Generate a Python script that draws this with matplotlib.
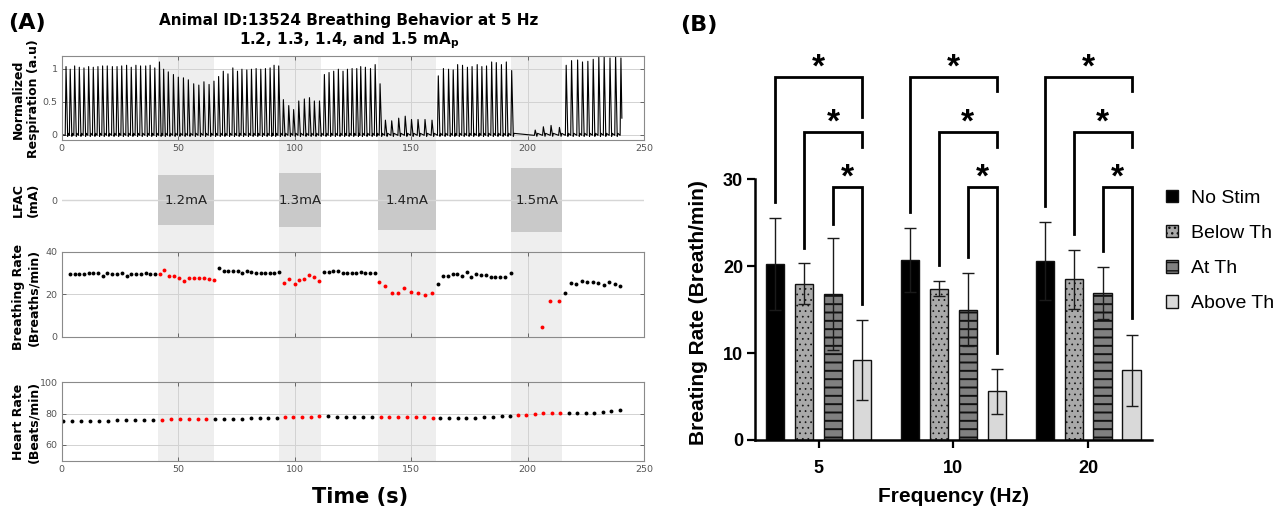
import numpy as np
import matplotlib
matplotlib.use('Agg')
import matplotlib.pyplot as plt

# ---------------- panel A data ----------------
stim_on = [41.5, 93.5, 136.0, 193.0]
stim_off = [65.5, 111.5, 160.5, 215.0]
stim_amp = [1.2, 1.3, 1.4, 1.5]
stim_lbl = ['1.2mA', '1.3mA', '1.4mA', '1.5mA']

# respiration: time and height of each breath peak
resp_t = [1.9, 3.7, 5.6, 7.6, 9.6, 11.6, 13.6, 15.6, 17.6, 19.6, 21.8, 23.8, 25.8, 27.9, 29.9,
          31.9, 33.9, 36.1, 38.0, 40.0,
          42.0, 43.8, 45.8, 48.0, 50.1, 52.3, 54.4, 56.7, 58.9, 61.1, 63.3, 65.4,
          67.4, 69.4, 71.4, 73.5, 75.5, 77.4, 79.5, 81.5, 83.5, 85.5, 87.5, 89.5, 91.2, 93.2,
          95.2, 97.5, 99.6, 101.8, 104.2, 106.4, 108.5, 110.7,
          112.8, 114.8, 116.8, 118.8, 120.8, 122.7, 124.7, 126.7, 128.4, 130.4, 132.6, 134.6, 136.7,
          139.0, 141.7, 144.7, 147.5, 150.2, 153.0, 156.0, 159.0,
          161.7, 163.9, 166.1, 168.1, 170.0, 172.1, 174.2, 176.2, 178.4, 180.4, 182.4, 184.6,
          186.6, 188.8, 190.9, 193.2,
          203.3, 206.8, 210.1, 213.7,
          216.6, 218.9, 221.5, 223.6, 225.9, 228.2, 230.6, 232.9, 235.4, 237.8, 240.1]
resp_pk = [1.03, 0.99, 1.04, 1.02, 1.01, 1.03, 1.02, 1.03, 1.04, 1.04, 1.03, 1.03, 1.04, 1.05, 1.02,
           1.05, 1.04, 1.04, 1.05, 1.01,
           1.10, 0.99, 0.95, 0.91, 0.87, 0.86, 0.83, 0.77, 0.75, 0.80, 0.76, 0.81,
           0.88, 0.96, 0.92, 1.01, 0.96, 0.99, 0.98, 0.99, 1.00, 0.99, 1.00, 1.01, 1.05, 1.04,
           0.53, 0.44, 0.38, 0.51, 0.54, 0.56, 0.51, 0.51,
           0.91, 0.94, 0.96, 0.99, 0.96, 0.99, 1.00, 1.00, 1.03, 1.02, 1.00, 1.06, 0.77,
           0.22, 0.21, 0.25, 0.28, 0.23, 0.23, 0.23, 0.22,
           0.89, 1.00, 0.99, 0.98, 1.06, 1.05, 1.02, 1.03, 1.06, 1.03, 1.04, 1.10,
           1.09, 1.06, 1.10, 0.97,
           0.07, 0.12, 0.14, 0.11,
           1.05, 1.12, 1.13, 1.10, 1.11, 1.14, 1.17, 1.18, 1.16, 1.21, 1.16]
resp_end = 0.25

# breathing rate (breaths/min)
br_t = [3.6, 5.6, 7.6, 9.6, 11.6, 13.6, 15.6, 17.6, 19.6, 21.6, 23.6, 25.8, 27.9, 29.9, 31.9, 34.1,
        36.1, 38.1, 40.1,
        42.1, 44.1, 46.1, 48.1, 50.3, 52.4, 54.6, 56.7, 58.8, 61.0, 63.3, 65.4,
        67.6, 69.6, 71.6, 73.6, 75.6, 77.4, 79.5, 81.5, 83.5, 85.5, 87.5, 89.5, 91.3, 93.2,
        95.3, 97.5, 100.0, 102.1, 104.2, 106.4, 108.5, 110.7,
        112.7, 114.7, 116.7, 118.7, 120.7, 122.7, 124.6, 126.5, 128.4, 130.4, 132.4, 134.4,
        136.4, 138.9, 141.7, 144.6, 147.1, 150.0, 152.9, 155.9, 158.9,
        161.6, 163.8, 165.8, 167.8, 169.8, 171.9, 173.9, 175.9, 177.9, 180.1, 182.1, 184.2,
        186.2, 188.4, 190.5, 192.7,
        206.1, 209.7, 213.3,
        216.3, 218.6, 221.0, 223.3, 225.6, 228.0, 230.4, 232.7, 235.0, 237.5, 239.9]
br_v = [29.6, 29.6, 29.6, 29.6, 30.0, 29.9, 29.9, 28.8, 30.2, 29.6, 29.6, 29.9, 28.6, 29.6, 29.6, 29.6,
        29.9, 29.6, 29.4,
        29.4, 31.5, 28.6, 28.5, 27.7, 26.2, 27.4, 27.4, 27.4, 27.4, 27.2, 26.9,
        32.3, 31.0, 30.8, 30.8, 30.8, 29.9, 30.8, 30.5, 30.2, 30.2, 30.2, 30.2, 30.2, 30.4,
        25.3, 27.2, 25.0, 26.9, 27.2, 28.9, 28.3, 26.1,
        30.4, 30.4, 30.7, 30.8, 30.2, 30.0, 30.0, 30.0, 30.4, 29.9, 29.9, 30.2,
        25.9, 23.7, 20.6, 20.4, 22.9, 21.2, 20.4, 19.8, 20.4,
        25.0, 28.8, 28.8, 29.7, 29.7, 28.8, 30.4, 28.0, 29.7, 28.9, 28.9, 28.1,
        28.1, 28.1, 28.3, 30.2,
        4.4, 16.8, 16.8,
        20.4, 25.1, 24.7, 26.1, 25.6, 25.6, 25.1, 24.5, 25.6, 24.8, 23.9]

# heart rate (beats/min)
hr_t = [0.5, 4.3, 8.2, 12.1, 15.9, 19.8, 23.6, 27.5, 31.4, 35.2, 39.1,
        43.0, 46.8, 50.7, 54.6, 58.4, 62.1,
        66.0, 69.7, 73.6, 77.5, 81.2, 85.0, 88.8, 92.5,
        95.8, 99.5, 103.2, 106.9, 110.7,
        114.4, 118.1, 122.0, 125.7, 129.5, 133.3,
        137.0, 140.7, 144.4, 148.2, 152.0, 155.7, 159.3,
        162.6, 166.3, 170.1, 173.8, 177.6, 181.4, 185.2, 189.0, 192.4,
        195.7, 199.4, 203.1, 206.7, 210.4, 214.0,
        217.7, 221.4, 225.0, 228.7, 232.3, 236.0, 239.5]
hr_v = [75.4, 75.4, 75.4, 75.6, 75.6, 75.6, 75.8, 75.8, 75.8, 75.8, 76.1,
        76.1, 76.3, 76.3, 76.5, 76.5, 76.7,
        76.7, 76.7, 76.7, 76.7, 76.9, 77.1, 77.3, 77.5,
        77.8, 78.0, 78.0, 78.0, 78.2,
        78.2, 78.0, 78.0, 78.0, 77.8, 77.8,
        78.0, 78.0, 78.0, 78.0, 78.0, 77.8, 77.5,
        77.5, 77.3, 77.1, 77.3, 77.5, 77.8, 78.0, 78.2, 78.6,
        79.0, 79.4, 79.9, 80.5, 80.7, 80.7,
        80.5, 80.3, 80.1, 80.3, 80.9, 81.6, 82.4]

# ---------------- panel B data ----------------
freqs = ['5', '10', '20']
conds = ['No Stim', 'Below Th', 'At Th', 'Above Th']
mean_5 = [20.3, 18.0, 16.8, 9.2]
sd_5 = [5.3, 2.4, 6.4, 4.6]
mean_10 = [20.7, 17.4, 15.0, 5.6]
sd_10 = [3.7, 0.85, 4.2, 2.6]
mean_20 = [20.6, 18.5, 16.9, 8.0]
sd_20 = [4.5, 3.4, 3.0, 4.1]

# significance brackets (each condition vs Above Th)
brk_top = [41.8, 35.4, 29.1]
brk_left_5 = [27.4, 22.1, 24.9]
brk_left_10 = [26.2, 20.1, 21.1]
brk_left_20 = [26.9, 23.7, 21.8]
brk_right_5 = [37.2, 33.7, 15.6]
brk_right_10 = [40.2, 33.7, 10.0]
brk_right_20 = [40.2, 33.7, 14.0]

# ---------------- figure ----------------
W, H = 1277, 508
fig = plt.figure(figsize=(W / 100, H / 100), dpi=100)


def box(l, t, r, b):
    return [l / W, 1 - b / H, (r - l) / W, (b - t) / H]


XL, XR = 61.6, 644.0
tick_col = '#555555'
spine_col = '#8a8a8a'


def stim_mask(t):
    t = np.asarray(t)
    m = np.zeros(len(t), dtype=bool)
    for a, b in zip(stim_on, stim_off):
        m |= (t >= a) & (t <= b)
    return m


def style_a(ax):
    ax.set_xlim(0, 250)
    ax.patch.set_visible(False)
    ax.set_zorder(1)
    for s in ax.spines.values():
        s.set_color(spine_col)
        s.set_linewidth(0.8)
    ax.tick_params(direction='in', length=3, width=0.6, colors=tick_col, labelsize=6.8,
                   top=True, right=True, pad=3)
    ax.set_xticks([0, 50, 100, 150, 200, 250])
    ax.grid(True, color='#d2d2d2', lw=0.7)
    ax.set_axisbelow(True)


# shaded stimulation windows behind the whole of panel A
bg = fig.add_axes(box(XL, 56, XR, 460.7))
bg.set_xlim(0, 250)
bg.axis('off')
bg.set_zorder(0)
for a, b in zip(stim_on, stim_off):
    bg.axvspan(a, b, color='#eeeeee', lw=0)

# respiration
ax1 = fig.add_axes(box(XL, 56, XR, 140.3))
style_a(ax1)
tr_t, tr_y = [0.3], [0.0]
for t, a in zip(resp_t, resp_pk):
    tr_t += [t - 0.35, t, t + 0.7, t + 1.0]
    tr_y += [-0.01, a, -0.025, 0.02]
tr_t[-2:] = [resp_t[-1] + 0.4]
tr_y[-2:] = [resp_end]
ax1.plot(tr_t, tr_y, color='black', lw=0.8)
ax1.set_ylim(-0.085, 1.19)
ax1.set_yticks([0, 0.5, 1])
ax1.set_yticklabels(['0', '0.5', '1'])

# LFAC waveform envelope
ax2 = fig.add_axes(box(XL, 157.8, XR, 242.2))
ax2.set_xlim(0, 250)
ax2.set_ylim(-2, 2)
ax2.patch.set_visible(False)
ax2.set_zorder(1)
for s in ax2.spines.values():
    s.set_visible(False)
ax2.axhline(0, color='#d6d6d6', lw=1)
for a, b, amp, lbl in zip(stim_on, stim_off, stim_amp, stim_lbl):
    ax2.fill_between([a, b], [-amp, -amp], [amp, amp], color='#c9c9c9', lw=0)
    ax2.text((a + b) / 2, 0, lbl, ha='center', va='center', fontsize=9.5, color='#222222')
ax2.set_xticks([])
ax2.set_yticks([0])
ax2.tick_params(direction='in', length=4, width=0.6, colors=tick_col, labelsize=6.8, pad=3)

# breathing rate
ax3 = fig.add_axes(box(XL, 251.8, XR, 336.5))
style_a(ax3)
m = stim_mask(br_t)
bt, bv = np.array(br_t), np.array(br_v)
ax3.plot(bt[~m], bv[~m], 'o', color='black', ms=2.8, mew=0)
ax3.plot(bt[m], bv[m], 'o', color='#ff0000', ms=2.8, mew=0)
ax3.set_ylim(0, 40)
ax3.set_yticks([0, 20, 40])
ax3.set_xticklabels([])

# heart rate
ax4 = fig.add_axes(box(XL, 382.2, XR, 460.7))
style_a(ax4)
m = stim_mask(hr_t)
ht, hv = np.array(hr_t), np.array(hr_v)
ax4.plot(ht[~m], hv[~m], 'o', color='black', ms=2.8, mew=0)
ax4.plot(ht[m], hv[m], 'o', color='#ff0000', ms=2.8, mew=0)
ax4.set_ylim(50, 100)
ax4.set_yticks([60, 80, 100])

# panel A labels
ylab_kw = dict(rotation=90, ha='center', va='center', fontsize=9, fontweight='bold',
               multialignment='center')
fig.text(26 / W, 1 - 99 / H, 'Normalized\nRespiration (a.u)', **ylab_kw)
fig.text(26 / W, 1 - 200 / H, 'LFAC\n(mA)', **ylab_kw)
fig.text(26 / W, 1 - 297 / H, 'Breathing Rate\n(Breaths/min)', **ylab_kw)
fig.text(26 / W, 1 - 422 / H, 'Heart Rate\n(Beats/min)', **ylab_kw)
fig.text(360 / W, 1 - 497 / H, 'Time (s)', ha='center', va='center', fontsize=15,
         fontweight='bold')
fig.text(349 / W, 1 - 21 / H, 'Animal ID:13524 Breathing Behavior at 5 Hz', ha='center',
         va='center', fontsize=11, fontweight='bold')
fig.text(349 / W, 1 - 41 / H, r'1.2, 1.3, 1.4, and 1.5 mA$_\mathbf{p}$', ha='center',
         va='center', fontsize=11, fontweight='bold')
fig.text(8 / W, 1 - 23 / H, '(A)', ha='left', va='center', fontsize=16, fontweight='bold')
fig.text(680 / W, 1 - 25 / H, '(B)', ha='left', va='center', fontsize=16, fontweight='bold')

# ---------------- panel B ----------------
bfont = 'Liberation Sans'
axb = fig.add_axes(box(755, 40, 1152, 440))
axb.patch.set_visible(False)
axb.set_xlim(-0.473, 2.474)
axb.set_ylim(0, 400 / 8.69)

pitch, width = 0.215, 0.136
means = [mean_5, mean_10, mean_20]
sds = [sd_5, sd_10, sd_20]
faces = ['#000000', '#a9a9a9', '#808080', '#d9d9d9']
hatches = [None, '...', '--', None]
hatch_lw = [1.0, 0.5, 1.4, 1.0]
handles = []
gx = np.arange(len(freqs))
for k in range(len(conds)):
    plt.rcParams['hatch.linewidth'] = hatch_lw[k]
    xs = gx + (k - 1.5) * pitch
    ys = [mm[k] for mm in means]
    es = [ss[k] for ss in sds]
    bars = axb.bar(xs, ys, width=width, color=faces[k], edgecolor='#111111', lw=1.0,
                   hatch=hatches[k], zorder=2, label=conds[k])
    axb.errorbar(xs, ys, yerr=es, fmt='none', ecolor='#1a1a1a', elinewidth=1.0, capsize=4,
                 capthick=1.0, zorder=3)
    handles.append(bars)

lefts = [brk_left_5, brk_left_10, brk_left_20]
rights = [brk_right_5, brk_right_10, brk_right_20]
for g in range(len(freqs)):
    xr = g + 1.5 * pitch
    for k in range(3):
        xl = g + (k - 1.5) * pitch
        top = brk_top[k]
        axb.plot([xl, xl, xr, xr], [lefts[g][k], top, top, rights[g][k]], color='black',
                 lw=2.0, solid_joinstyle='miter', clip_on=False, zorder=4)
        axb.text((xl + xr) / 2, top + 0.05, '*', ha='center', va='baseline', fontsize=24,
                 fontweight='bold', family=bfont, clip_on=False)

for s in ['top', 'right']:
    axb.spines[s].set_visible(False)
axb.spines['left'].set_bounds(0, 30)
axb.spines['left'].set_linewidth(1.8)
axb.spines['bottom'].set_linewidth(1.8)
axb.set_yticks([0, 10, 20, 30])
axb.set_xticks(gx)
axb.set_xticklabels(freqs)
axb.tick_params(axis='both', direction='out', length=5.5, width=1.6, labelsize=13)
axb.tick_params(axis='y', pad=3)
axb.tick_params(axis='x', pad=9)
for lab in axb.get_xticklabels() + axb.get_yticklabels():
    lab.set_fontfamily(bfont)
    lab.set_fontweight('bold')
axb.set_xlabel('Frequency (Hz)', fontsize=15, fontweight='bold', family=bfont, labelpad=7)
axb.set_ylabel('Breating Rate (Breath/min)', fontsize=15, fontweight='bold', family=bfont)
axb.yaxis.set_label_coords(-0.118, 0.3175)
axb.legend(handles=handles, labels=conds, loc='upper left',
           bbox_to_anchor=(1166 / W, 1 - 190 / H), bbox_transform=fig.transFigure,
           frameon=False, prop={'family': bfont, 'size': 14}, handlelength=0.6,
           handleheight=0.6, handletextpad=0.7, labelspacing=0.93, borderpad=0,
           borderaxespad=0)

fig.savefig('out.png', dpi=100)
